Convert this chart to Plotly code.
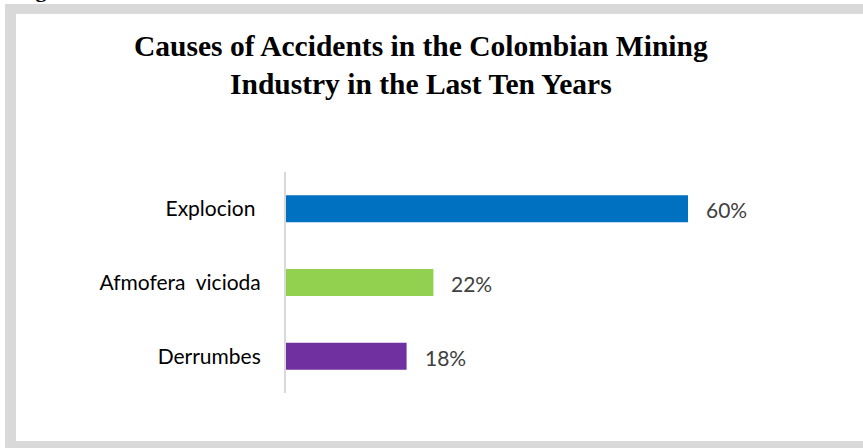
import plotly.graph_objects as go

# Data
categories = ["Explocion\u00a0", "Afmofera\u00a0 vicioda", "Derrumbes"]
values = [60, 22, 18]
colors = ["#0070C0", "#92D050", "#7030A0"]
value_labels = ["60%", "22%", "18%"]
title_text = "<b>Causes of Accidents in the Colombian Mining<br>Industry in the Last Ten Years</b>"

W, H = 863, 448
# plot area in pixels
L, R, T, B = 286, 755, 172, 393
X_MAX = 70


def px(x):
    return (x - L) / (R - L)


def py(y):
    return (B - y) / (B - T)


fig = go.Figure()
fig.add_trace(go.Bar(
    x=values,
    y=categories,
    orientation="h",
    marker=dict(color=colors, line=dict(width=0)),
    width=0.367,
    hoverinfo="skip",
))

annotations = []
for cat, v, lab in zip(categories, values, value_labels):
    annotations.append(dict(
        x=v, y=cat, xref="x", yref="y", text=lab, showarrow=False,
        xanchor="left", yanchor="middle", xshift=16, yshift=-1,
        font=dict(family="Lato", size=21, color="#404040"),
    ))

# chart title
annotations.append(dict(
    x=px(421), y=py(28), xref="paper", yref="paper",
    text=title_text, showarrow=False, xanchor="center", yanchor="top",
    align="center",
    font=dict(family="Liberation Serif", size=29.5, color="#000000"),
))

# caption above the frame (mostly outside the page)
annotations.append(dict(
    x=px(14), y=py(4), xref="paper", yref="paper",
    text="<b>Figure 1</b>", showarrow=False, xanchor="left", yanchor="bottom",
    font=dict(family="Liberation Serif", size=22, color="#000000"),
))

shapes = [
    dict(type="rect", xref="paper", yref="paper", layer="below",
         x0=px(5), x1=px(880), y0=py(4), y1=py(470),
         fillcolor="#d9d9d9", line=dict(width=0)),
    dict(type="rect", xref="paper", yref="paper", layer="below",
         x0=px(16), x1=px(880), y0=py(14), y1=py(441),
         fillcolor="#ffffff", line=dict(width=0)),
]

fig.update_layout(
    width=W, height=H,
    margin=dict(l=L, r=W - R, t=T, b=H - B, pad=0),
    paper_bgcolor="#ffffff",
    plot_bgcolor="rgba(0,0,0,0)",
    showlegend=False,
    annotations=annotations,
    shapes=shapes,
    xaxis=dict(range=[0, X_MAX], visible=False, fixedrange=True),
    yaxis=dict(
        type="category",
        categoryorder="array", categoryarray=categories,
        range=[2.5, -0.5],
        showline=True, linecolor="#d9d9d9", linewidth=2,
        showgrid=False, zeroline=False,
        ticks="outside", ticklen=19, tickcolor="rgba(0,0,0,0)",
        tickfont=dict(family="Lato", size=21, color="#000000"),
        fixedrange=True,
    ),
)

fig.write_html("out.html")
